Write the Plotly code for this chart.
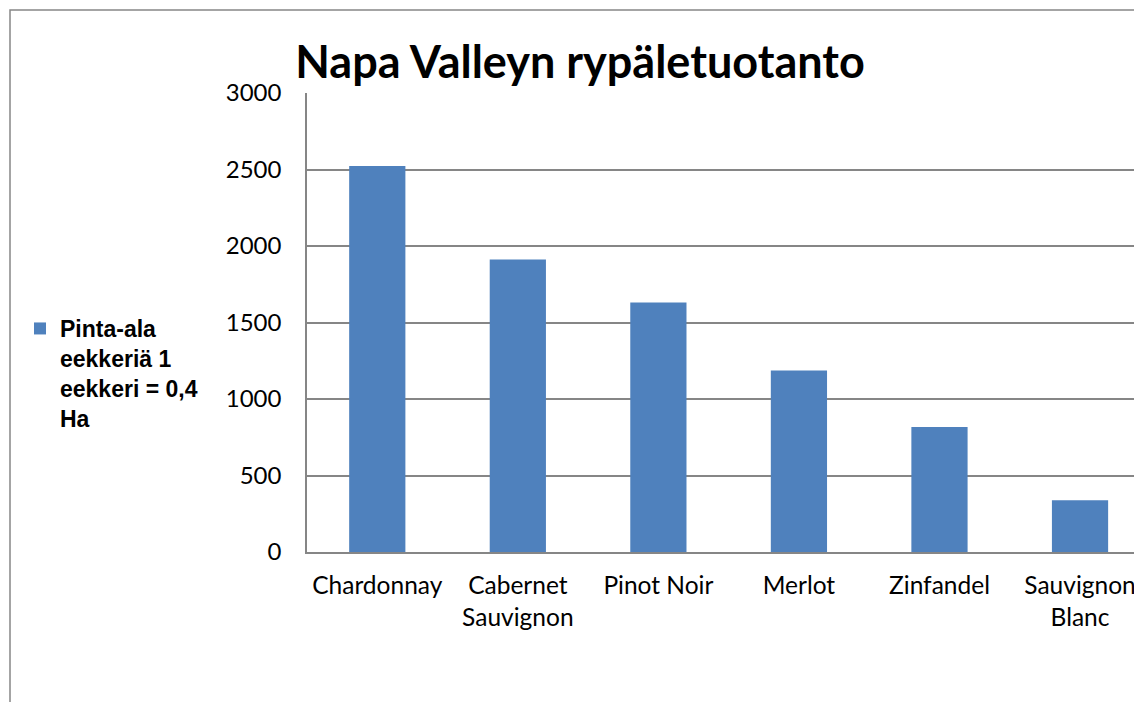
import plotly.graph_objects as go

categories = ["Chardonnay", "Cabernet<br>Sauvignon", "Pinot Noir", "Merlot", "Zinfandel", "Sauvignon<br>Blanc"]
values = [2523, 1911, 1630, 1187, 817, 338]
series_name = "Pinta-ala<br>eekkeriä 1<br>eekkeri = 0,4<br>Ha"
y_ticks = [0, 500, 1000, 1500, 2000, 2500, 3000]
title_text = "Napa Valleyn rypäletuotanto"

OFF = 8  # page body margin
W, H = 1142 - OFF, 702 - OFF
L = 307 - OFF
T = 93 - OFF
B = H - (552 - OFF)
R = 0
pw, ph = W - L - R, H - T - B

def px_x(x):
    return (x - OFF - L) / pw

def px_y(y):
    return (H - B - (y - OFF)) / ph

fig = go.Figure()
fig.add_trace(go.Bar(
    x=list(range(len(categories))), y=values, name=series_name,
    marker=dict(color="#4F81BD", line=dict(width=0)),
    width=0.4,
))

fig.update_layout(
    width=W, height=H, autosize=False,
    margin=dict(l=L, r=R, t=T, b=B),
    paper_bgcolor="white", plot_bgcolor="white",
    showlegend=True,
    legend=dict(
        x=px_x(20), xanchor="left", y=px_y(307), yanchor="top",
        font=dict(family="Liberation Sans, Arial", size=23, color="black", weight="bold"),
        valign="top", bgcolor="rgba(0,0,0,0)", tracegroupgap=0,
    ),
    title=dict(
        text="<b>" + title_text + "</b>", x=(580 - OFF) / W, xanchor="center", xref="container",
        y=(H - (62 - OFF)) / H, yanchor="middle", yref="container",
        font=dict(family="Lato", size=45, color="black"),
    ),
    xaxis=dict(
        tickmode="array", tickvals=list(range(len(categories))), ticktext=categories,
        range=[-0.5, 5.5 - 8.3 / 140.5],
        showgrid=False, zeroline=False, showline=True, linecolor="#868686", linewidth=1.5,
        ticks="", tickfont=dict(family="Lato", size=24.5, color="black"),
        ticklabelstandoff=11,
    ),
    yaxis=dict(
        range=[0, 3000], tickmode="array", tickvals=y_ticks,
        showgrid=True, gridcolor="#868686", gridwidth=1.5,
        zeroline=False, showline=True, linecolor="#868686", linewidth=1.5,
        ticks="", tickfont=dict(family="Lato", size=24, color="black"),
        ticklabelstandoff=19,
    ),
    shapes=[dict(
        type="rect", xref="paper", yref="paper",
        x0=px_x(10), x1=px_x(1300), y0=px_y(900), y1=px_y(10),
        line=dict(color="#878787", width=1.5), fillcolor="rgba(0,0,0,0)", layer="below",
    )],
)

fig.write_html("out.html")
